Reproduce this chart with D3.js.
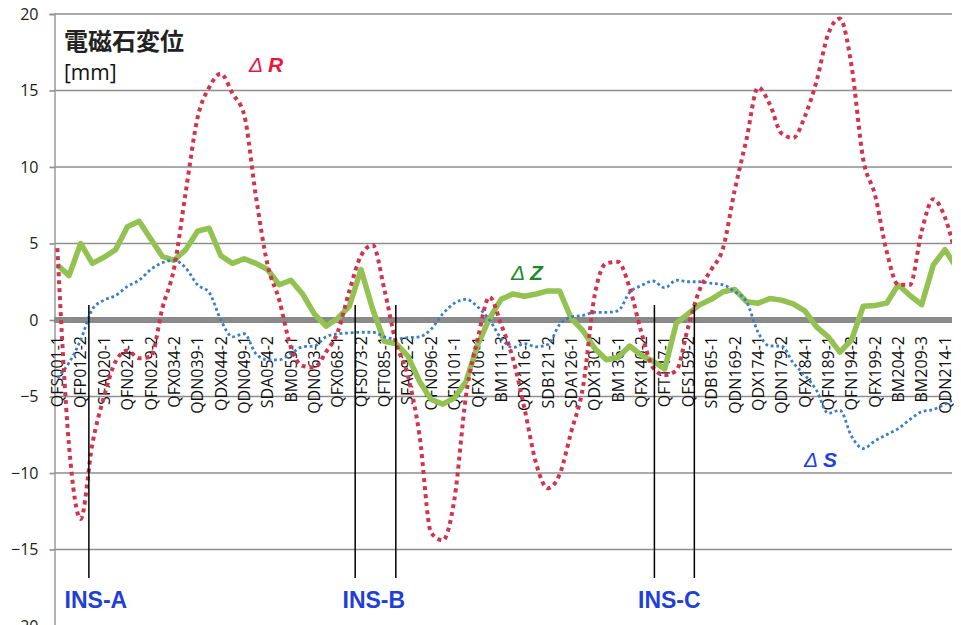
<!DOCTYPE html>
<html>
<head>
<meta charset="utf-8">
<script src="https://cdn.jsdelivr.net/npm/d3@7"></script>
<style>
    body { margin: 0; background: #ffffff; }
    svg { display: block; }
</style>
</head>
<body>
<script>
// magnet names shown on the axis (one label every 5th magnet)
const categories = ["QFS001-1", "QFP012-2", "SFA020-1", "QFN024-1", "QFN029-2", "QFX034-2", "QDN039-1",
    "QDX044-2", "QDN049-1", "SDA054-2", "BM059-1", "QDN063-2", "QFX068-1", "QFS073-2", "QFT085-1",
    "SFA092-2", "QFN096-2", "QFN101-1", "QFX106-1", "BM111-3", "QDX116-1", "SDB121-2", "SDA126-1",
    "QDX130-2", "BM136-1", "QFX140-2", "QFT147-1", "QFS159-2", "SDB165-1", "QDN169-2", "QDX174-1",
    "QDN179-2", "QFX184-1", "QFN189-1", "QFN194-2", "QFX199-2", "BM204-2", "BM209-3", "QDN214-1"];

const yTicks = [-20, -15, -10, -5, 0, 5, 10, 15, 20];

// readings [mm], every half label interval starting at the first label
const step = 0.5;
const deltaR = [4.7, -8.2, -13.0, -8.1, -5.0, -2.7, -2.0, -2.5, -2.4, 0.8,
    3.4, 8.4, 13.2, 15.2, 16.1, 14.8, 13.4, 8.1, 3.6, 1.3,
    -1.8, -3.0, -3.1, -2.1, -0.8, 1.9, 4.2, 4.9, 2.0, -1.5,
    -3.6, -7.5, -13.9, -14.4, -11.7, -4.9, -1.2, 1.5, -0.3, -2.5,
    -5.8, -9.4, -11.0, -10.1, -7.3, -4.4, 1.6, 3.7, 3.8, 2.1,
    -0.8, -3.1, -3.6, -3.3, -0.5, 2.0, 3.3, 4.7, 8.5, 11.8,
    15.2, 14.1, 12.2, 11.9, 13.3, 15.6, 18.7, 19.7, 16.6, 10.5,
    8.2, 4.5, 2.3, 2.3, 5.8, 7.9, 6.7, 4.0];
const deltaS = [-3.8, -2.8, -1.3, 0.7, 1.3, 1.6, 2.2, 2.6, 3.3, 3.75,
    3.9, 3.4, 2.3, 1.8, 0.0, -1.1, -0.9, -2.2, -2.6, -2.6,
    -2.2, -1.75, -1.7, -1.1, -0.9, -0.85, -0.8, -0.8, -1.1, -1.25,
    -1.15, -1.1, -0.6, 0.4, 1.1, 1.35, 0.85, 0.0, -1.2, -1.8,
    -1.55, -1.75, -1.6, -0.3, 0.2, 0.3, 0.5, 0.5, 0.6, 1.8,
    2.25, 2.55, 2.1, 2.6, 2.5, 2.5, 2.4, 2.3, 1.85, 1.2,
    -0.8, -1.7, -1.7, -2.8, -3.6, -4.6, -6.1, -5.9, -7.6, -8.4,
    -7.9, -7.5, -7.1, -6.5, -6.0, -5.85, -5.5, -5.1];
const deltaZ = [3.6, 2.9, 5.0, 3.7, 4.1, 4.6, 6.1, 6.45, 5.3, 4.15,
    3.9, 4.6, 5.8, 6.0, 4.2, 3.7, 4.0, 3.7, 3.3, 2.3,
    2.6, 1.7, 0.4, -0.4, 0.1, 0.9, 3.3, 0.7, -1.4, -1.55,
    -2.35, -4.0, -5.2, -5.5, -5.1, -4.0, -1.6, 0.1, 1.35, 1.7,
    1.55, 1.7, 1.9, 1.9, 0.1, -0.7, -1.85, -2.6, -2.45, -1.7,
    -2.3, -2.7, -3.2, -0.2, 0.4, 1.0, 1.35, 1.85, 2.0, 1.2,
    1.1, 1.4, 1.3, 1.05, 0.6, -0.45, -1.1, -2.1, -1.3, 0.9,
    0.95, 1.1, 2.3, 1.6, 1.0, 3.6, 4.6, 3.4];

// insertion sections: boundary lines in label units
const insNames = ["INS-A", "INS-B", "INS-C"];
const insLines = [[1.35], [12.75, 14.49], [25.56, 27.27]];
const insCentres = [1.65, 13.55, 26.2];

// svg
var svg = d3.select("body").append("svg")
    .attr("width", 961)
    .attr("height", 625);

// scales (x in label units)
let x = d3.scaleLinear().domain([-0.1, 38.3]).range([55, 952]);
let y = d3.scaleLinear().domain([-20, 20]).range([626, 14]);

// grid lines
svg.append("g")
    .selectAll("line")
    .data(yTicks)
    .enter()
    .append("line")
        .attr("x1", 54)
        .attr("x2", 952)
        .attr("y1", d => y(d))
        .attr("y2", d => y(d))
        .style("stroke", "#8e8e8e")
        .style("stroke-width", 1.6)

// y axis with tick labels
var yAxis = svg.append("g")
    .attr("transform", "translate(54.5,0)")
    .call(d3.axisLeft(y).tickValues(yTicks).tickSize(5).tickPadding(11))
yAxis.select(".domain")
    .style("stroke", "#9a9a9a")
    .style("stroke-width", 1.5)
yAxis.selectAll(".tick line")
    .style("stroke", "#8e8e8e")
    .style("stroke-width", 1.6)
yAxis.selectAll("text")
    .style("font-family", "'Open Sans'")
    .style("font-size", "16px")
    .style("fill", "#222")

// thick zero line
svg.append("line")
    .attr("x1", 54)
    .attr("x2", 952)
    .attr("y1", y(0))
    .attr("y2", y(0))
    .style("stroke", "#8a8a8a")
    .style("stroke-width", 6)

// category labels, rotated, hanging below the zero line
svg.append("g")
    .selectAll("text")
    .data(categories)
    .enter()
    .append("text")
        .text(d => d)
        .attr("transform", (d, i) => "translate(" + x(i) + ",336) rotate(-90)")
        .attr("dy", "0.36em")
        .attr("text-anchor", "end")
        .style("font-family", "'Open Sans'")
        .style("font-size", "16px")
        .style("fill", "#111")

// clip the series to the plot area
svg.append("clipPath")
    .attr("id", "plotClip")
    .append("rect")
        .attr("x", 55)
        .attr("y", 0)
        .attr("width", 897)
        .attr("height", 625)

let smooth = d3.line()
    .x((d, i) => x(i * step))
    .y(d => y(d))
    .curve(d3.curveMonotoneX)
let straight = d3.line()
    .x((d, i) => x(i * step))
    .y(d => y(d))

var plot = svg.append("g").attr("clip-path", "url(#plotClip)")

// dZ: thick green line
plot.append("path")
    .attr("d", straight(deltaZ))
    .style("fill", "none")
    .style("stroke", "#93c152")
    .style("stroke-width", 5.5)
    .style("stroke-linejoin", "round")

// dS: small blue dots
plot.append("path")
    .attr("d", smooth(deltaS))
    .style("fill", "none")
    .style("stroke", "#3a7ec8")
    .style("stroke-width", 2.8)
    .style("stroke-dasharray", "2.8 2.8")

// dR: red square dots
plot.append("path")
    .attr("d", smooth(deltaR))
    .style("fill", "none")
    .style("stroke", "#d0344f")
    .style("stroke-width", 4)
    .style("stroke-dasharray", "4 4")

// INS section boundaries
insLines.forEach(function (lines) {
    lines.forEach(function (u) {
        svg.append("line")
            .attr("x1", x(u))
            .attr("x2", x(u))
            .attr("y1", 305)
            .attr("y2", 578)
            .style("stroke", "#000")
            .style("stroke-width", 1.5)
    })
})
svg.append("g")
    .selectAll("text")
    .data(insNames)
    .enter()
    .append("text")
        .text(d => d)
        .attr("x", (d, i) => x(insCentres[i]))
        .attr("y", 608)
        .attr("text-anchor", "middle")
        .style("font-family", "'Liberation Sans'")
        .style("font-weight", "bold")
        .style("font-size", "23px")
        .style("fill", "#1f3fd6")

// series tags
function addTag(letter, px, py, colour) {
    var t = svg.append("text")
        .attr("x", px)
        .attr("y", py)
        .style("font-family", "'Liberation Sans'")
        .style("font-style", "italic")
        .style("font-size", "21px")
        .style("fill", colour)
    t.append("tspan").text("\u0394")
    t.append("tspan").text(letter).attr("dx", 5).style("font-weight", "bold")
}
addTag("R", 249, 72, "#e8173f")
addTag("Z", 511, 280, "#1c8a2c")
addTag("S", 804, 467, "#1d3fe0")

// chart title
svg.append("text")
    .text("電磁石変位")
    .attr("x", 64)
    .attr("y", 50)
    .style("font-family", "'Noto Sans CJK JP'")
    .style("font-weight", "bold")
    .style("font-size", "24px")
    .style("fill", "#222")
svg.append("text")
    .text("[mm]")
    .attr("x", 64)
    .attr("y", 80)
    .style("font-family", "'Open Sans'")
    .style("font-size", "21px")
    .style("fill", "#111")
</script>
</body>
</html>
